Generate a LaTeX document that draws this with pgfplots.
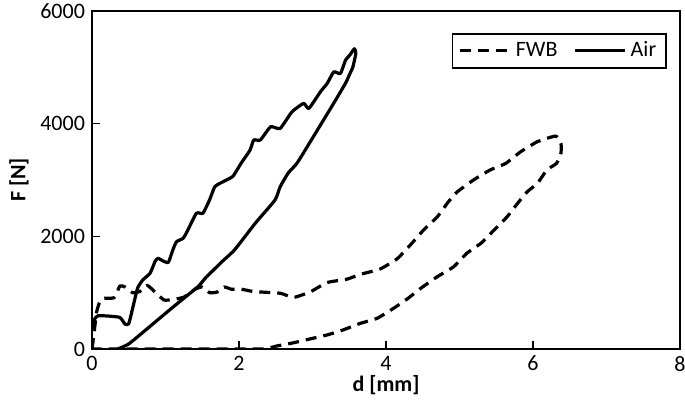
\documentclass[border=0pt]{standalone}
\usepackage{fontspec}
\setmainfont{Carlito}
\usepackage{pgfplots}
\pgfplotsset{compat=1.18}

\pgfplotstableread{
d F
0.00 330
0.03 520
0.08 590
0.22 585
0.38 560
0.45 440
0.50 450
0.56 760
0.62 1080
0.69 1225
0.79 1345
0.86 1560
0.90 1610
0.97 1560
1.04 1540
1.10 1760
1.15 1905
1.24 1965
1.30 2100
1.42 2410
1.51 2410
1.60 2650
1.67 2880
1.74 2940
1.83 3000
1.92 3070
2.03 3300
2.15 3530
2.20 3710
2.29 3710
2.43 3945
2.56 3915
2.72 4210
2.88 4360
2.95 4270
3.11 4570
3.20 4715
3.29 4920
3.38 4890
3.45 5130
3.51 5220
3.57 5330
3.59 5250
3.55 5010
3.51 4890
3.45 4720
3.29 4365
3.15 4065
3.01 3765
2.79 3300
2.67 3125
2.56 2880
2.49 2645
2.22 2230
1.94 1760
1.76 1540
1.54 1255
1.44 1105
1.08 720
0.76 370
0.50 90
0.35 0
}\air

\pgfplotstableread{
d F
0.00 0
0.03 300
0.06 640
0.10 820
0.15 900
0.30 910
0.38 1120
0.45 1100
0.55 1000
0.65 1020
0.75 1130
0.85 1020
0.98 870
1.10 880
1.25 920
1.40 1060
1.50 1100
1.60 1000
1.70 1010
1.80 1100
1.90 1060
2.00 1070
2.20 1020
2.56 990
2.74 915
2.97 1015
3.20 1180
3.47 1240
3.65 1325
3.92 1420
4.15 1600
4.33 1845
4.51 2110
4.70 2350
4.85 2615
4.97 2790
5.19 3000
5.42 3180
5.63 3295
5.83 3500
6.06 3680
6.31 3780
6.38 3650
6.38 3475
6.32 3295
6.19 3180
6.06 2940
5.92 2790
5.79 2585
5.65 2350
5.47 2110
5.29 1875
5.10 1700
4.92 1460
4.70 1285
4.47 1075
4.29 890
4.10 720
3.88 545
3.65 455
3.42 340
3.20 250
2.97 180
2.74 110
2.52 55
2.38 10
2.20 0
0.00 0
}\fwb

\begin{document}
\begin{tikzpicture}
\useasboundingbox (-46pt,-26.5pt) rectangle (296.5pt,174.5pt);
\begin{axis}[
    scale only axis,
    width=294pt, height=169pt,
    xmin=0, xmax=8, ymin=0, ymax=6000,
    xtick={0,2,4,6,8},
    ytick={0,2000,4000,6000},
    tick align=inside,
    xtick pos=bottom, ytick pos=left,
    major tick length=4pt,
    axis line style={line width=0.9pt},
    tick style={line width=0.7pt, black},
    font=\fontsize{11}{13}\selectfont,
    /pgf/number format/assume math mode=true,
    /pgf/number format/1000 sep={},
    scaled y ticks=false,
    xlabel={\bfseries d [mm]},
    xlabel style={yshift=5pt},
    ylabel={\bfseries F [N]},
    ylabel style={yshift=-1pt},
    legend columns=2,
    legend style={at={([xshift=-6.5pt,yshift=-11pt]rel axis cs:1,1)},
        anchor=north east, draw=black, line width=0.8pt,
        font=\fontsize{11}{13}\selectfont,
        inner xsep=3pt, inner ysep=2pt,
        /tikz/every even column/.append style={column sep=6pt}},
    legend image code/.code={\draw[#1] (0pt,0pt) -- (25pt,0pt);},
    legend cell align=left,
]
\addplot[black, line width=1.6pt, dash pattern=on 5.5pt off 3.5pt, line join=round, smooth, tension=0.3] table[x=d,y=F] {\fwb};
\addlegendentry{FWB}
\addplot[black, line width=1.6pt, line join=round, smooth, tension=0.3] table[x=d,y=F] {\air};
\addlegendentry{Air}
\end{axis}
\end{tikzpicture}
\end{document}
